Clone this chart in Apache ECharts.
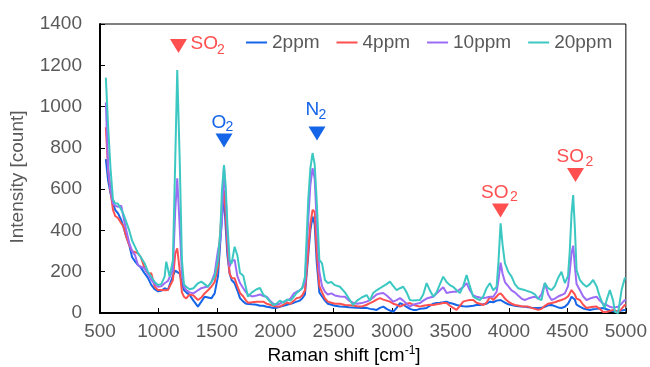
<!DOCTYPE html>
<html><head><meta charset="utf-8">
<script src="https://cdn.jsdelivr.net/npm/echarts@6/dist/echarts.min.js"></script>
<style>html,body{margin:0;padding:0;background:#fff}#c{width:650px;height:367px}</style>
</head><body><div id="c"></div>
<script>
var shift = [550,570,590,611,630,654,682,700,725,750,775,800,825,850,882,910,939,968,996,1024,1053,1067,1081,1096,1124,1144,1161,1182,1201,1218,1238,1267,1300,1338,1367,1395,1424,1453,1481,1510,1530,1544,1561,1575,1590,1609,1626,1652,1675,1698,1726,1750,1766,1800,1840,1869,1897,1926,1955,1983,2010,2039,2070,2100,2130,2160,2183,2210,2230,2254,2282,2300,2319,2337,2354,2377,2400,2425,2450,2480,2510,2553,2596,2630,2665,2700,2739,2782,2810,2838,2867,2896,2924,2953,2981,3010,3038,3067,3095,3124,3152,3180,3209,3238,3266,3295,3323,3352,3380,3409,3437,3466,3494,3522,3551,3580,3608,3637,3665,3694,3722,3751,3780,3808,3837,3865,3894,3910,3928,3945,3965,3993,4022,4050,4078,4107,4135,4164,4192,4221,4250,4278,4307,4335,4364,4392,4420,4449,4478,4505,4520,4535,4549,4563,4578,4606,4635,4663,4692,4720,4749,4777,4805,4820,4834,4863,4891,4906,4934,4963,4991,5000];
var ppm20 = [1140,900,700,550,530,530,500,480,440,400,350,320,290,270,240,200,176,150,136,140,176,249,240,176,257,741,1177,741,257,140,127,115,120,144,152,140,127,150,176,257,400,600,717,620,430,257,240,321,280,194,180,120,79,100,115,121,90,75,55,39,45,60,50,65,60,80,97,110,120,176,547,700,775,720,547,257,240,160,145,150,135,127,100,70,39,60,75,87,60,97,110,120,130,140,152,130,111,120,127,100,63,60,62,63,90,145,110,79,100,140,176,150,135,127,110,97,130,184,130,79,70,63,80,120,145,110,127,250,434,330,242,200,176,140,120,115,111,105,100,90,70,63,145,120,111,130,170,200,145,180,300,480,571,420,208,160,140,127,140,160,130,79,40,24,60,111,60,6,0,111,169,170];
var ppm10 = [1020,700,600,530,520,515,520,466,400,340,300,280,232,225,216,190,160,140,127,130,144,150,155,160,208,499,652,418,192,130,111,100,95,110,120,125,127,150,192,305,354,450,709,580,380,224,250,257,180,145,120,100,90,80,85,90,82,79,60,45,40,45,55,60,70,95,103,110,120,150,450,620,702,650,450,200,130,103,90,95,85,80,79,60,50,45,48,55,63,75,90,95,97,85,70,55,62,72,60,45,31,40,45,48,60,70,75,79,95,110,125,97,100,103,103,115,125,145,110,85,79,75,72,75,79,79,103,160,244,190,150,130,110,100,85,70,63,70,75,79,70,90,145,90,63,70,80,87,95,130,200,290,326,230,140,111,80,63,70,75,79,60,45,40,39,30,26,25,30,45,63,60];
var ppm4 = [900,690,590,500,470,460,435,420,370,330,300,295,289,270,216,190,192,127,111,111,110,111,111,115,160,289,313,208,100,79,71,90,85,63,75,95,110,127,150,224,400,515,596,480,320,192,170,168,130,97,80,60,50,52,55,55,55,45,40,35,32,31,40,50,45,60,72,75,85,110,300,430,500,490,300,130,100,70,55,50,45,45,39,38,36,33,31,40,48,55,65,72,65,60,55,45,40,31,38,45,48,40,35,31,35,38,40,39,42,45,48,48,35,25,15,35,55,60,63,63,50,45,39,50,79,63,80,90,95,85,70,55,45,39,36,33,31,31,25,20,15,20,35,45,48,52,58,63,70,80,95,111,110,90,70,63,40,24,28,30,31,20,5,0,5,10,15,10,5,20,39,40];
var ppm2 = [745,640,580,530,500,483,450,418,370,330,270,250,232,220,192,170,136,115,105,108,120,118,112,111,180,205,208,190,150,111,100,87,60,31,55,79,75,71,95,180,350,466,563,420,280,192,160,144,110,72,55,45,39,42,40,35,35,30,28,24,25,30,35,40,45,50,55,60,70,90,280,400,467,430,250,100,80,60,45,40,35,31,30,28,27,25,24,25,20,18,15,25,31,20,12,6,25,48,40,30,20,15,15,20,22,24,35,45,48,50,52,55,48,45,39,35,33,31,33,35,39,39,42,45,55,52,60,62,63,58,50,42,39,35,33,31,30,28,26,24,24,25,30,37,39,33,27,24,30,45,60,79,85,65,40,31,22,18,15,18,20,22,24,22,18,12,8,6,8,12,15,15];
var seriesNames = ['2ppm','4ppm','10ppm','20ppm'];
var xTicks = [500,5000,500];
var yTicks = [0,1400,200];

var FONT = '"Liberation Sans", Arial, sans-serif';
var GRAY = '#595959';
var RED = '#ff4f4f', BLUE = '#1565e8';
var colors = ['#1565e8','#ff4f4f','#9d6cf5','#3cc8c2'];
function pairs(v){ return shift.map(function(x,i){ return [x, v[i]]; }); }
var allData = [ppm2, ppm4, ppm10, ppm20];

function txt(x,y,t,size,color){
  return {type:'text', silent:true, z:100, x:x, y:y, style:{text:t, x:0, y:0, fill:color, font: size+'px '+FONT, textAlign:'left', textVerticalAlign:'middle'}};
}
function tri(cx,top,color){
  return {type:'polygon', silent:true, z:100, shape:{points:[[cx-8.5,top],[cx+8.5,top],[cx,top+14]]}, style:{fill:color}};
}
function plain(v){ return String(v); }

var chart = echarts.init(document.getElementById('c'), null, {renderer:'canvas'});
chart.setOption({
  animation:false,
  color: colors,
  grid:{left:100, right:24, top:24, bottom:54, show:true, borderColor:'#000', borderWidth:1},
  legend:{
    data: seriesNames, left:246, top:33, padding:0, icon:'rect', itemWidth:21, itemHeight:2, itemGap:17,
    textStyle:{fontFamily:FONT, fontSize:19, color:GRAY}
  },
  xAxis:{
    type:'value', min:xTicks[0], max:xTicks[1], interval:xTicks[2],
    axisLine:{lineStyle:{color:'#000', width:2}},
    axisTick:{inside:true, length:5, lineStyle:{color:'#000', width:1}},
    axisLabel:{fontFamily:FONT, fontSize:19, color:GRAY, margin:9, formatter:plain},
    splitLine:{show:false}
  },
  yAxis:{
    type:'value', min:yTicks[0], max:yTicks[1], interval:yTicks[2],
    axisLine:{show:true, lineStyle:{color:'#000', width:2}},
    axisTick:{show:true, inside:true, length:5, lineStyle:{color:'#000', width:1}},
    axisLabel:{fontFamily:FONT, fontSize:19, color:GRAY, margin:18, formatter:plain},
    splitLine:{show:false}
  },
  series: seriesNames.map(function(n,i){
    return {name:n, type:'line', data:pairs(allData[i]), showSymbol:false, symbol:'none',
      lineStyle:{width:2, color:colors[i]}, clip:true, smooth:false};
  }),
  graphic:[
    {type:'text', silent:true, x:18, y:177, rotation:Math.PI/2, style:{text:'Intensity [count]', x:0, y:0, fill:GRAY, font:'19px '+FONT, textAlign:'center', textVerticalAlign:'middle'}},
    {type:'text', silent:true, x:344, y:355, style:{
      text:'{a|Raman shift [cm}{s|-1}{a|]}', textAlign:'center', textVerticalAlign:'middle',
      rich:{a:{fontFamily:FONT, fontSize:19, color:GRAY, lineHeight:20, verticalAlign:'bottom'}, s:{fontFamily:FONT, fontSize:12, color:GRAY, lineHeight:12, verticalAlign:'top'}}
    }},
    tri(178.5,39,RED), txt(190.5,43.5,'SO',19,RED), txt(217,50.5,'2',14,RED),
    txt(211.5,122.5,'O',19,BLUE), txt(225.5,127,'2',14,BLUE), tri(224,133.5,BLUE),
    txt(305.5,109.5,'N',19,BLUE), txt(318.5,115,'2',14,BLUE), tri(317,126.5,BLUE),
    txt(481,192.5,'SO',19,RED), txt(510,197.5,'2',14,RED), tri(500.5,203.5,RED),
    txt(556.5,156.5,'SO',19,RED), txt(585.5,162,'2',14,RED), tri(575.5,168,RED)
  ]
});
</script>
</body></html>
